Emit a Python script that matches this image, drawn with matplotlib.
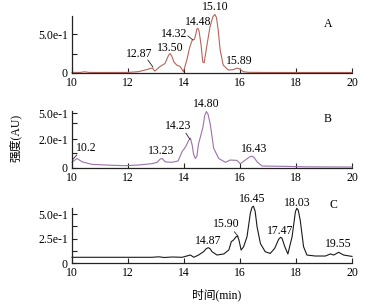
import numpy as np
import matplotlib
matplotlib.use("Agg")
import matplotlib.pyplot as plt

plt.rcParams['font.family'] = ['Liberation Serif', 'Noto Sans CJK SC']
plt.rcParams['font.size'] = 8.5

# trace A (time in min, intensity in AU)
t_a = [10.0, 10.3, 10.45, 10.6, 11.0, 12.0, 12.37, 12.61, 12.8, 12.87, 12.96, 13.14, 13.32, 13.44,
       13.5, 13.56, 13.64, 13.74, 13.86, 13.98, 14.1, 14.21, 14.3, 14.36, 14.41, 14.46, 14.5,
       14.54, 14.61, 14.67, 14.72, 14.81, 14.93, 15.03, 15.1, 15.16, 15.22, 15.29, 15.4, 15.58,
       15.76, 15.89, 15.98, 16.12, 16.3, 17.0, 20.0]
i_a = [0.004, 0.004, 0.012, 0.004, 0.003, 0.004, 0.013, 0.035, 0.055, 0.06, 0.022, 0.08, 0.12, 0.22,
       0.25, 0.22, 0.14, 0.10, 0.08, 0.013, 0.165, 0.34, 0.43, 0.43, 0.48, 0.57, 0.58,
       0.54, 0.36, 0.14, 0.13, 0.34, 0.60, 0.73, 0.76, 0.72, 0.56, 0.30, 0.10, 0.035,
       0.04, 0.06, 0.05, 0.013, 0.005, 0.003, 0.003]

# trace B
t_b = [10.0, 10.18, 10.36, 10.71, 11.19, 11.9, 12.38, 12.86, 13.04, 13.15, 13.22, 13.33, 13.57,
       13.79, 13.93, 14.05, 14.17, 14.23, 14.29, 14.34, 14.4, 14.46, 14.52, 14.67, 14.74, 14.8,
       14.86, 14.94, 15.06, 15.24, 15.48, 15.65, 15.89, 16.01, 16.19, 16.35, 16.43, 16.5, 16.61,
       16.79, 17.62, 18.33, 20.0]
i_b = [0.046, 0.08, 0.05, 0.028, 0.022, 0.016, 0.022, 0.034, 0.046, 0.075, 0.08, 0.05, 0.046,
       0.058, 0.14, 0.18, 0.24, 0.26, 0.20, 0.12, 0.08, 0.10, 0.21, 0.35, 0.46, 0.495,
       0.47, 0.38, 0.17, 0.08, 0.046, 0.066, 0.063, 0.033, 0.066, 0.095, 0.10, 0.09, 0.05,
       0.013, 0.01, 0.006, 0.004]

# trace C
t_c = [10.0, 12.86, 13.1, 13.3, 13.57, 13.93, 14.23, 14.35, 14.52, 14.7, 14.8, 14.87, 14.94, 15.0,
       15.18, 15.42, 15.6, 15.69, 15.77, 15.86, 15.91, 15.96, 16.04, 16.13, 16.25, 16.37, 16.43,
       16.48, 16.54, 16.61, 16.73, 16.9, 17.08, 17.24, 17.38, 17.45, 17.5, 17.6, 17.71, 17.86,
       17.98, 18.03, 18.08, 18.15, 18.27, 18.39, 18.69, 19.05, 19.23, 19.35, 19.52, 19.7, 20.0]
i_c = [0.061, 0.061, 0.066, 0.059, 0.064, 0.061, 0.084, 0.061, 0.084, 0.118, 0.15, 0.159, 0.145,
       0.118, 0.084, 0.095, 0.135, 0.22, 0.237, 0.27, 0.277, 0.24, 0.135, 0.169, 0.27, 0.51,
       0.57, 0.58, 0.53, 0.37, 0.20, 0.118, 0.10, 0.152, 0.244, 0.264, 0.255, 0.169, 0.095,
       0.27, 0.525, 0.559, 0.54, 0.44, 0.169, 0.084, 0.074, 0.074, 0.095, 0.084, 0.112, 0.084,
       0.07]

# peak labels: (text, text_x, text_y)
labels_a = [("12.87", 12.39, 0.243), ("13.50", 13.5, 0.32), ("14.32", 13.64, 0.50),
            ("14.48", 14.5, 0.66), ("15.10", 15.11, 0.855), ("15.89", 15.96, 0.152)]
labels_b = [("10.2", 10.52, 0.173), ("13.23", 13.18, 0.146), ("14.23", 13.79, 0.367),
            ("14.80", 14.79, 0.56), ("16.43", 16.5, 0.164)]
labels_c = [("14.87", 14.86, 0.227), ("15.90", 15.5, 0.40), ("16.45", 16.43, 0.653),
            ("17.47", 17.43, 0.328), ("18.03", 18.04, 0.613), ("19.55", 19.5, 0.196)]
# leader lines: ((x0, y0), (x1, y1))
leaders_a = [((12.71, 0.165), (12.89, 0.074)), ((14.14, 0.48), (14.31, 0.43))]
leaders_b = [((10.17, 0.11), (10.04, 0.075)), ((14.07, 0.303), (14.21, 0.25))]
leaders_c = [((15.8, 0.32), (15.93, 0.275))]

W, H = 369, 304
fig = plt.figure(figsize=(W / 100, H / 100), dpi=100)

def make_ax(bottom_px, top_px, ymax):
    ax = fig.add_axes([72 / W, (H - bottom_px) / H, 280 / W, (bottom_px - top_px) / H])
    ax.set_xlim(10, 20)
    ax.set_ylim(0, ymax)
    for s in ['top', 'right']:
        ax.spines[s].set_visible(False)
    for s in ['left', 'bottom']:
        ax.spines[s].set_linewidth(0.9)
        ax.spines[s].set_color('#222222')
    ax.set_xticks(range(10, 21, 2))
    ax.tick_params(direction='in', length=3.5, width=0.8, color='#222222', labelsize=8.5)
    ax.tick_params(axis='x', pad=3)
    ax.tick_params(axis='y', pad=3)
    return ax

panels = [
    (72.7, 16, 0.74, t_a, i_a, '#b5655a', labels_a, leaders_a, 'A', (19.14, 0.634),
     [0, 0.25, 0.5], ['0', '', '5.0e-1']),
    (167.5, 111, 0.5, t_b, i_b, '#9a72a8', labels_b, leaders_b, 'B', (19.14, 0.43),
     [0, 0.128, 0.252, 0.394, 0.482], ['0', '', '2.0e-1', '', '5.0e-1']),
    (263.3, 207.7, 0.565, t_c, i_c, '#1a1a1a', labels_c, leaders_c, 'C', (19.32, 0.59),
     [0, 0.125, 0.25, 0.375, 0.5], ['0', '', '2.5e-1', '', '5.0e-1']),
]

for bot, top, ymax, t, y, col, labs, leads, name, npos, yt, ytl in panels:
    ax = make_ax(bot, top, ymax)
    ax.plot(t, y, color=col, lw=0.8, clip_on=False)
    ax.set_yticks(yt)
    ax.set_yticklabels(ytl)
    for txt, x0, y0 in labs:
        ax.text(x0, y0, txt, ha='center', va='center', fontsize=8.5, clip_on=False)
    for (x0, y0), (x1, y1) in leads:
        ax.plot([x0, x1], [y0, y1], color='#222222', lw=0.6, clip_on=False)
    ax.text(npos[0], npos[1], name, ha='center', va='center', fontsize=8.5)

fig.text(15 / W, 1 - 138 / H, '强度(AU)', rotation=90, ha='center', va='center', fontsize=8.5)
fig.text(217 / W, 1 - 295 / H, '时间(min)', ha='center', va='center', fontsize=8.5)

fig.savefig('out.png', dpi=100)
